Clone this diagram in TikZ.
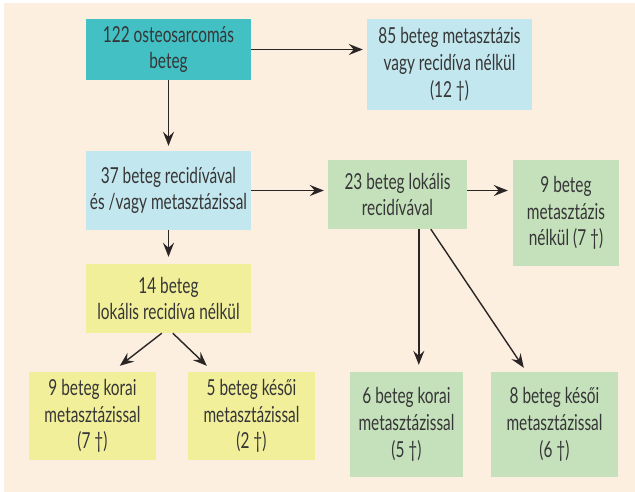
\documentclass[tikz,border=0pt]{standalone}
\usepackage{fontspec}
\setmainfont{Lato}[FakeStretch=0.7]
\usetikzlibrary{arrows.meta,calc}
\definecolor{bgc}{HTML}{FCEFE0}
\definecolor{tealc}{HTML}{42C0C4}
\definecolor{bluec}{HTML}{C3E7EF}
\definecolor{yelc}{HTML}{F2EF9B}
\definecolor{grnc}{HTML}{C5E1BC}
\definecolor{txtc}{HTML}{363636}
\definecolor{linec}{HTML}{2B2526}
\tikzset{
  box/.style={inner sep=0pt, align=center, text=txtc, font=\fontsize{22}{26.7}\selectfont},
  arr/.style={draw=linec, line width=1.4pt, -{Stealth[length=14pt,width=11pt,inset=5pt]}},
}
\begin{document}
\begin{tikzpicture}[x=1pt,y=-1pt]
\useasboundingbox (0,0) rectangle (635,492);
\fill[white] (0,0) rectangle (635,492);
\fill[bgc] (4,3) rectangle (635,492);
\node[box, fill=tealc, minimum width=165pt, minimum height=61pt] (n1) at (168.5,49.5) {122 osteosarcomás\\beteg};
\node[box, fill=bluec, minimum width=165pt, minimum height=91pt] (n2) at (449.5,64.5) {85 beteg metasztázis\\vagy recidíva nélkül\\(12 †)};
\node[box, fill=bluec, minimum width=165pt, minimum height=79pt] (n3) at (168.5,190.5) {37 beteg recidívával\\és /vagy metasztázissal};
\node[box, fill=yelc, minimum width=165pt, minimum height=69pt] (n4) at (168.5,298.5) {14 beteg\\lokális recidíva nélkül};
\node[box, fill=grnc, minimum width=139pt, minimum height=69pt] (n5) at (397.5,194.5) {23 beteg lokális\\recidívával};
\node[box, fill=grnc, minimum width=106pt, minimum height=106pt] (n6) at (566,213) {9 beteg\\metasztázis\\nélkül (7 †)};
\node[box, fill=grnc, minimum width=113pt, minimum height=105pt] (n7) at (406.5,424.5) {6 beteg korai\\metasztázissal\\(5 †)};
\node[box, fill=grnc, minimum width=127pt, minimum height=105pt] (n8) at (554.5,424.5) {8 beteg késői\\metasztázissal\\(6 †)};
\node[box, fill=yelc, minimum width=127pt, minimum height=88pt] (n9) at (92.5,416) {9 beteg korai\\metasztázissal\\(7 †)};
\node[box, fill=yelc, minimum width=127pt, minimum height=88pt] (n10) at (251.5,416) {5 beteg késői\\metasztázissal\\(2 †)};
\draw[arr, shorten >=4pt] (n1.east) -- (n1.east -| n2.west);
\draw[arr, shorten >=5pt] (n1) -- (n3);
\draw[arr, shorten >=7pt] (n3) -- (n4);
\draw[arr, shorten >=4pt] (n3.east) -- (n3.east -| n5.west);
\draw[arr, shorten >=5pt] (n3.east -| n5.east) -- (n3.east -| n6.west);
\draw[arr] ($(n5.south west)+(91,0)$) -- ($(n7.north west)+(69,-7)$);
\draw[arr] ($(n5.south west)+(103,0)$) -- ($(n8.north west)+(33,-4)$);
\draw[arr] ($(n4.south west)+(76,0)$) -- ($(n9.north west)+(91,-6)$);
\draw[arr] ($(n4.south west)+(87,0)$) -- ($(n10.north west)+(19,-6)$);
\end{tikzpicture}
\end{document}
